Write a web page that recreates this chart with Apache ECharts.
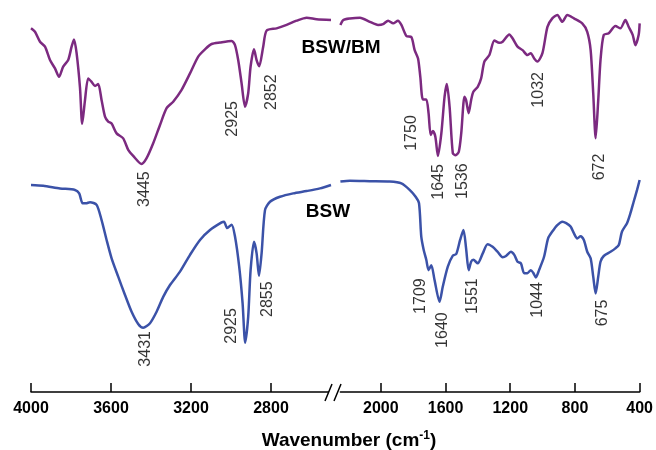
<!DOCTYPE html>
<html>
<head>
<meta charset="utf-8">
<script src="https://cdn.jsdelivr.net/npm/echarts@6/dist/echarts.min.js"></script>
<style>html,body{margin:0;padding:0;background:#fff}#c{width:656px;height:450px}</style>
</head>
<body>
<div id="c"></div>
<script>
// ---- Data (wavenumber in cm-1, arbitrary offset transmittance) ----
const bmHighWn = [4000,3980,3955,3930,3905,3880,3860,3839,3814,3797,3785,3772,3755,3744,3730,3714,3697,3680,3664,3647,3630,3614,3597,3572,3539,3514,3489,3447,3422,3389,3355,3322,3289,3247,3205,3164,3130,3097,3055,2997,2980,2964,2947,2930,2914,2902,2885,2872,2859,2839,2822,2772,2722,2672,2622,2572,2500];
const bmHighT  = [95.2,94.3,91.7,90.4,86.9,84.7,82.5,85.2,86.9,90.4,92.3,88.7,79.6,70.2,76.4,82.1,81.2,80.1,80.6,76.4,72.1,70.8,70.3,67.7,66.4,63.4,61.8,59.7,61.2,65.1,69.9,74.3,76.0,79.1,83.4,87.8,89.7,91.1,91.5,91.9,90.8,86.9,80.8,74.7,78.2,85.2,89.7,86.9,85.3,90.4,94.6,95.2,96.1,97.2,98.0,97.6,97.4];
const bmLowWn  = [2250,2232,2191,2129,2068,2017,1986,1955,1924,1894,1873,1842,1811,1791,1770,1756,1740,1719,1705,1692,1678,1663,1647,1626,1606,1592,1575,1555,1538,1518,1503,1483,1473,1457,1442,1428,1401,1380,1360,1329,1298,1268,1247,1206,1186,1155,1124,1094,1073,1052,1032,1001,970,940,909,878,847,806,755,724,703,687,672,656,642,622,591,550,519,488,468,443,426,406,400];
const bmLowT   = [96.1,97.4,97.8,98.0,96.9,96.1,96.3,97.2,96.5,97.2,96.1,93.2,92.9,89.5,87.3,82.5,76.6,76.6,73.0,67.3,68.3,66.8,61.8,67.7,77.3,80.6,74.7,62.5,62.0,62.9,67.7,77.3,76.4,73.0,76.4,78.6,79.9,82.1,86.5,88.2,92.0,91.4,91.7,93.6,92.6,90.4,89.5,88.2,88.7,87.3,86.5,88.7,95.6,97.8,98.7,96.9,98.7,97.8,96.5,94.3,89.5,78.2,66.4,76.4,86.9,93.5,93.9,95.8,95.2,97.4,95.6,93.5,90.8,93.5,96.5];
const bswHighWn = [4000,3939,3855,3780,3759,3742,3725,3705,3672,3647,3622,3597,3564,3530,3497,3464,3439,3405,3372,3339,3305,3255,3205,3155,3105,3047,3035,3019,2997,2980,2959,2942,2929,2914,2902,2885,2872,2860,2847,2830,2805,2755,2689,2622,2555,2500];
const bswHighT  = [54.2,54.0,53.3,52.9,52.0,49.4,49.4,49.7,49.0,45.0,39.8,35.0,30.2,25.4,21.0,17.8,16.8,18.0,21.0,24.9,28.0,31.5,35.9,39.8,42.4,44.4,44.6,42.9,43.8,40.7,32.8,23.2,12.9,19.7,31.9,39.3,36.3,30.4,36.3,47.6,49.8,51.1,52.0,52.6,53.3,54.2];
const bswLowWn  = [2250,2191,2068,1945,1873,1822,1785,1764,1750,1735,1719,1705,1688,1668,1637,1617,1586,1555,1534,1510,1489,1473,1457,1442,1428,1401,1370,1340,1309,1278,1247,1226,1196,1175,1155,1134,1114,1094,1073,1058,1042,1022,991,966,940,909,878,854,827,806,786,765,745,724,703,687,672,656,642,622,580,550,529,509,478,457,437,416,400];
const bswLowT   = [55.1,55.3,55.2,55.1,54.6,52.9,51.1,49.4,40.7,37.2,34.6,31.9,33.2,29.3,23.6,27.6,32.8,35.7,36.1,39.8,42.4,37.6,31.9,34.1,34.6,33.7,36.3,38.7,38.0,36.7,35.3,35.6,36.7,35.9,34.1,33.7,31.1,31.1,31.9,31.2,30.0,31.9,35.4,40.2,42.0,43.7,44.6,44.2,43.3,41.5,40.2,40.8,39.8,36.7,35.0,30.2,25.8,30.2,34.1,35.6,36.7,37.6,38.5,42.0,44.2,46.8,49.8,52.9,55.5];

// tick labels
const highTicks = [4000,3600,3200,2800];
const lowTicks  = [2000,1600,1200,800,400];

// peak annotations: [label, wavenumber anchor, T anchor]
const peaksHigh = [['3445',3430,53.1],['2925',2990,71.5],['2852',2797,78.5],['3431',3425,11.3],['2925',2995,17.3],['2855',2815,24.3]];
const peaksLow  = [['1750',1812,67.8],['1645',1643,55.0],['1536',1495,55.2],['1032',1022,79.1],['672',646,58.9],['1709',1754,25.1],['1640',1618,16.2],['1551',1431,25.1],['1044',1034,24.1],['675',628,20.7]];

const zip = (a,b) => a.map((v,i)=>[v,b[i]]);
const FONT = '"Liberation Sans", Arial, sans-serif';
const PURPLE = '#7c2a80', BLUE = '#3b52a8';

function xAxisDef(idx, min, max, ticks){
  return {
    gridIndex: idx, type:'value', min:min, max:max, inverse:true,
    axisLine:{show:true, lineStyle:{color:'#000', width:1.5}},
    axisTick:{show:true, inside:true, length:9, lineStyle:{color:'#000', width:1.5}, customValues:ticks},
    axisLabel:{show:true, customValues:ticks, margin:9, color:'#000', fontSize:16, fontWeight:'bold', fontFamily:FONT,
      formatter:(v)=>String(v)},
    splitLine:{show:false}
  };
}
function yAxisDef(idx){
  return {gridIndex:idx, type:'value', min:0, max:100, show:false, splitLine:{show:false}};
}
function lineSeries(idx, data, color){
  return {type:'line', xAxisIndex:idx, yAxisIndex:idx, data:data, showSymbol:false, smooth:0.25,
    lineStyle:{color:color, width:2.5}, silent:true, animation:false, clip:false};
}
function peakSeries(idx, peaks){
  return {type:'scatter', xAxisIndex:idx, yAxisIndex:idx, symbolSize:0, animation:false, silent:true,
    data: peaks.map(p=>({name:p[0], value:[p[1],p[2]]})),
    label:{show:true, position:'inside', rotate:90, formatter:'{b}', color:'#000', fontSize:16, fontFamily:FONT, align:'center', verticalAlign:'middle'}};
}

const chart = echarts.init(document.getElementById('c'), null, {renderer:'canvas'});
chart.setOption({
  backgroundColor:'#fff',
  animation:false,
  grid:[
    {left:31, width:300, top:10, height:382},
    {left:340.4, width:300.6, top:10, height:382}
  ],
  xAxis:[ xAxisDef(0, 2500, 4000, highTicks), xAxisDef(1, 400, 2250, lowTicks) ],
  yAxis:[ yAxisDef(0), yAxisDef(1) ],
  series:[
    lineSeries(0, zip(bswHighWn, bswHighT), BLUE),
    lineSeries(1, zip(bswLowWn, bswLowT), BLUE),
    lineSeries(0, zip(bmHighWn, bmHighT), PURPLE),
    lineSeries(1, zip(bmLowWn, bmLowT), PURPLE),
    peakSeries(0, peaksHigh),
    peakSeries(1, peaksLow)
  ],
  graphic:[
    {type:'rect', shape:{x:329, y:386, width:9, height:13}, style:{fill:'#fff'}, z:100},
    {type:'line', shape:{x1:325, y1:401, x2:332, y2:384}, style:{stroke:'#000', lineWidth:1.5}, z:101},
    {type:'line', shape:{x1:334, y1:401, x2:341, y2:384}, style:{stroke:'#000', lineWidth:1.5}, z:101},
    {type:'text', x:341, y:48, style:{text:'BSW/BM', fill:'#000', font:'bold 19px ' + FONT, textAlign:'center', textVerticalAlign:'middle'}, z:100},
    {type:'text', x:328, y:212, style:{text:'BSW', fill:'#000', font:'bold 19px ' + FONT, textAlign:'center', textVerticalAlign:'middle'}, z:100},
    {type:'text', x:349, y:440, style:{
      text:'{t|Wavenumber (cm}{s|-1}{t|)}', textAlign:'center', textVerticalAlign:'middle',
      rich:{t:{font:'bold 19px ' + FONT, fill:'#000', verticalAlign:'bottom'}, s:{font:'bold 12px ' + FONT, fill:'#000', verticalAlign:'top', padding:[0,0,8,0]}}
    }, z:100}
  ]
});
</script>
</body>
</html>
